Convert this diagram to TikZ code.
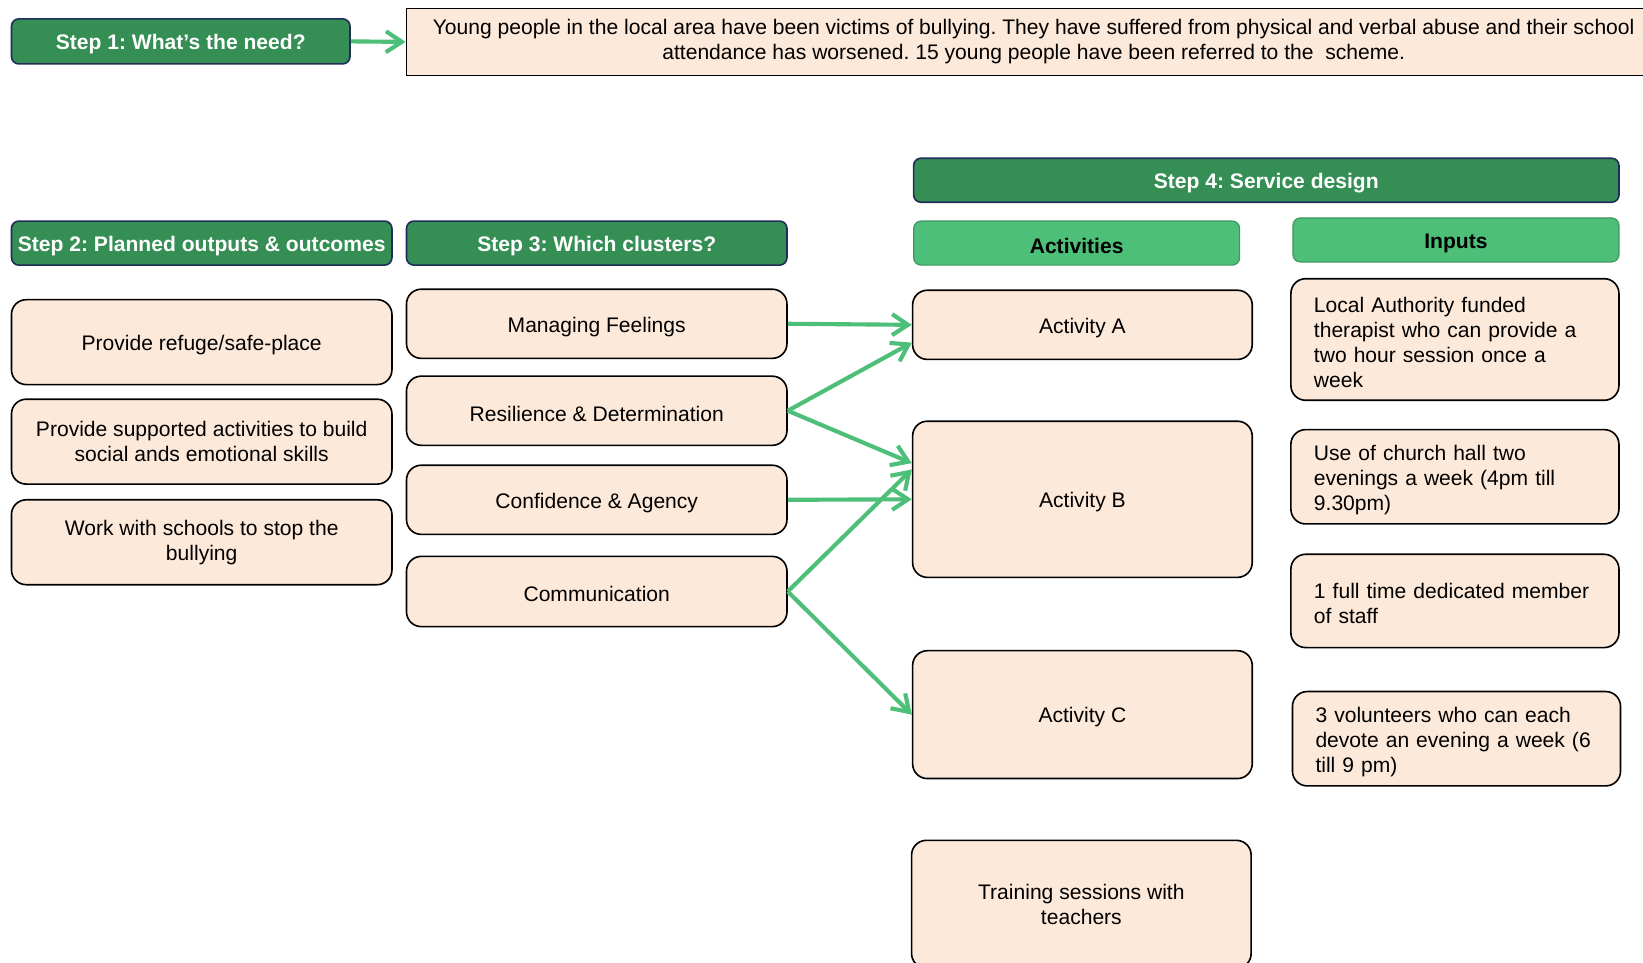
\documentclass[tikz,border=0pt]{standalone}
\usepackage{fontspec}
\setmainfont{Liberation Sans}
\usepackage{tikz}
\usetikzlibrary{arrows.meta,shapes}

\definecolor{darkgreen}{RGB}{53,143,85}
\definecolor{navyline}{RGB}{31,45,90}
\definecolor{lightgreen}{RGB}{77,191,120}
\definecolor{lightline}{RGB}{62,150,96}
\definecolor{peach}{RGB}{253,233,217}
\frenchspacing

\begin{document}
\begin{tikzpicture}
[x=0.025cm,y=-0.025cm,font=\fontsize{14.3}{17}\selectfont]
\tikzset{
	lowtext/.style = {execute at begin node={\rule{0pt}{1.0em}}},
	stephead/.style = {draw=navyline, line width=1.1pt, fill=darkgreen, rounded corners=5pt, text=white, font=\fontsize{14.3}{17}\selectfont\bfseries, inner sep=0, minimum height=1.05cm, lowtext},
	actihead/.style = {draw=lightline, line width=0.8pt, fill=lightgreen, rounded corners=5pt, font=\fontsize{14.3}{17}\selectfont\bfseries, inner sep=0, minimum height=1.05cm, lowtext},
	peachbox/.style = {draw, line width=1.1pt, fill=peach, rounded corners=10pt, align=center, inner sep=0, lowtext},
	inputbox/.style = {peachbox, align=left, inner xsep=0.55cm, text width=6.725cm},
	grarrow/.style = {draw=lightgreen, line width=2.8pt, -{Straight Barb[length=0.38cm,width=0.5cm]}}
}
\useasboundingbox (0,0) rectangle (1568,919);

\node(step1) [stephead, minimum width=8.075cm, minimum height=1.075cm] at (172.5,39.5) {Step 1: What’s the need?};
\node(need) [draw, line width=1.1pt, fill=peach, align=center, inner sep=0, minimum width=29.925cm, minimum height=1.6cm, lowtext] at (986.5,40)
	{Young people in the local area have been victims of bullying. They have suffered from physical and verbal abuse and their school\\attendance has worsened. 15 young people have been referred to the\ \ scheme.};

\node(step4) [stephead, minimum width=16.825cm] at (1208.5,172) {Step 4: Service design};
\node(step2) [stephead, minimum width=9.075cm] at (192.5,232) {Step 2: Planned outputs \& outcomes};
\node(step3) [stephead, minimum width=9.075cm] at (569.5,232) {Step 3: Which clusters?};
\node(acts) [actihead, minimum width=7.775cm] at (1027.5,232) {Activities};
\node(inputs) [actihead, minimum width=7.775cm] at (1389.5,229) {Inputs};

\node(refuge) [peachbox, minimum width=9.075cm, minimum height=2.025cm] at (192.5,326.5) {Provide refuge/safe-place};
\node(skills) [peachbox, minimum width=9.075cm, minimum height=2.025cm] at (192.5,421.5) {Provide supported activities to build\\social ands emotional skills};
\node(schools) [peachbox, minimum width=9.075cm, minimum height=2.025cm] at (192.5,517.5) {Work with schools to stop the\\bullying};

\node(feel) [peachbox, minimum width=9.075cm, minimum height=1.65cm] at (569.5,309) {Managing Feelings};
\node(resil) [peachbox, minimum width=9.075cm, minimum height=1.65cm] at (569.5,392) {Resilience \& Determination};
\node(conf) [peachbox, minimum width=9.075cm, minimum height=1.65cm] at (569.5,477) {Confidence \& Agency};
\node(comm) [peachbox, minimum width=9.075cm, minimum height=1.675cm] at (569.5,564.5) {Communication};

\node(actA) [peachbox, minimum width=8.1cm, minimum height=1.65cm] at (1033,310) {Activity A};
\node(actB) [peachbox, minimum width=8.1cm, minimum height=3.725cm] at (1033,476.5) {Activity B};
\node(actC) [peachbox, minimum width=8.1cm, minimum height=3.05cm] at (1033,682) {Activity C};
\node(train) [peachbox, minimum width=8.1cm, minimum height=3.05cm] at (1032,863) {Training sessions with\\teachers};

\node(funded) [inputbox, minimum height=2.9cm] at (1388.5,324) {Local Authority funded\\therapist who can provide a\\two hour session once a\\week};
\node(hall) [inputbox, minimum height=2.25cm] at (1388.5,455) {Use of church hall two\\evenings a week (4pm till\\9.30pm)};
\node(staff) [inputbox, minimum height=2.225cm] at (1388.5,573.5) {1 full time dedicated member\\of staff};
\node(volun) [inputbox, minimum height=2.25cm] at (1390,705) {3 volunteers who can each\\devote an evening a week (6\\till 9 pm)};

\draw[grarrow] (step1.east) -- (need.west);
\draw[grarrow] (feel.east) -- (actA.west);
\draw[grarrow] (resil.east) -- ([yshift=-0.425cm]actA.west);
\draw[grarrow] (resil.east) -- ([yshift=0.8625cm]actB.west);
\draw[grarrow] (conf.east) -- (actB.west);
\draw[grarrow] (comm.east) -- ([yshift=0.7125cm]actB.west);
\draw[grarrow] (comm.east) -- (actC.west);

\end{tikzpicture}
\end{document}
